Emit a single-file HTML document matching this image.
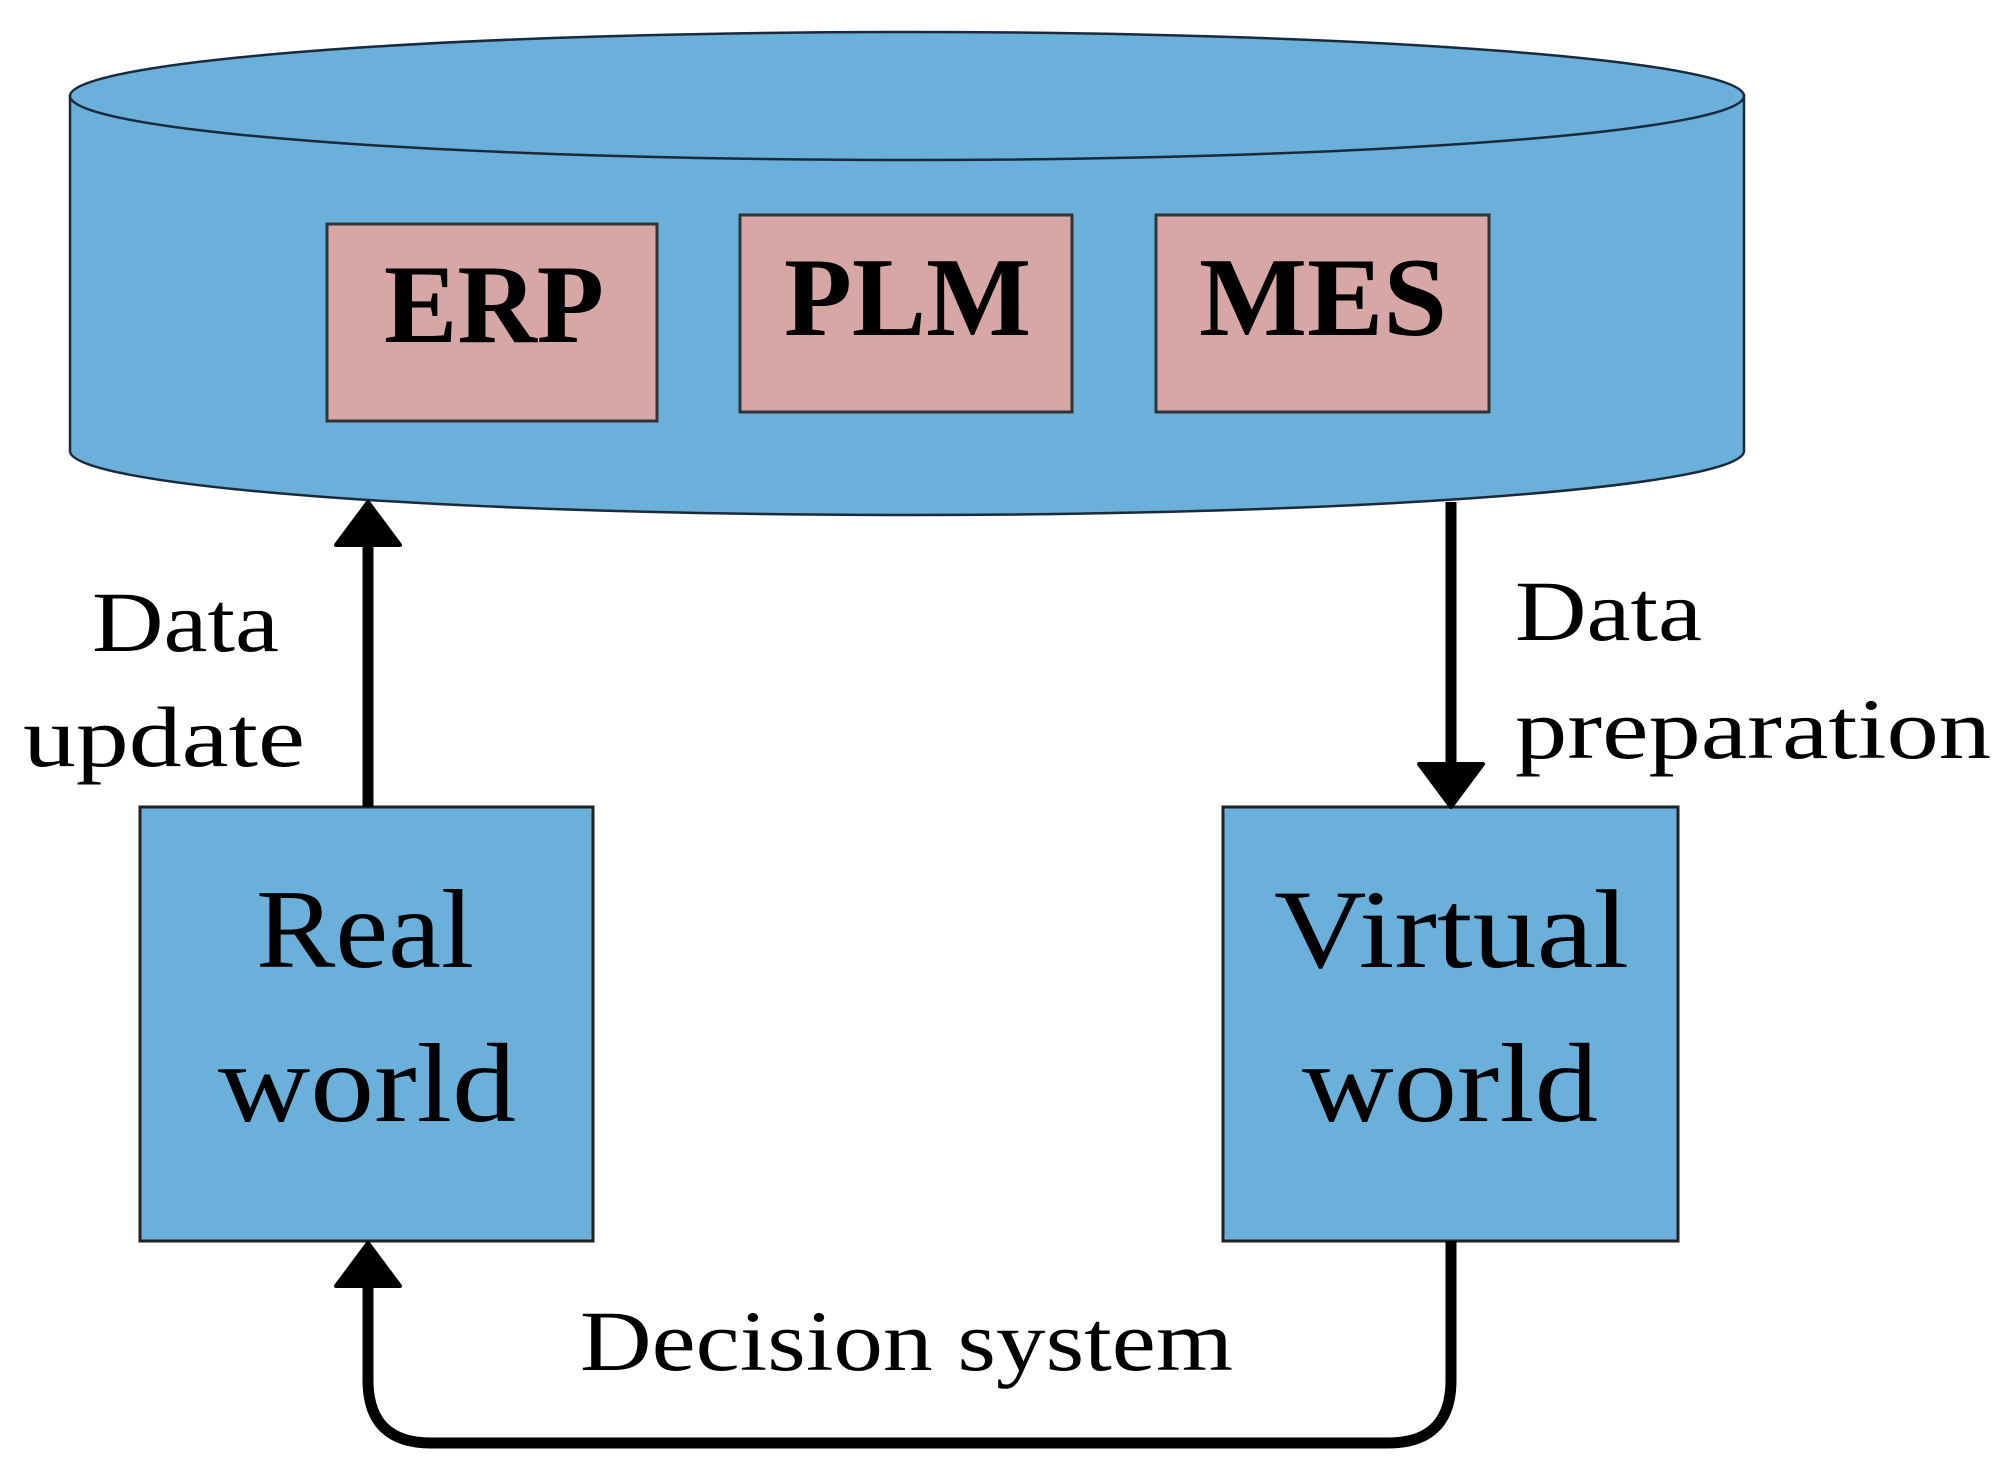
<!DOCTYPE html>
<html><head><meta charset="utf-8"><style>html,body{margin:0;padding:0;background:#fff}svg{display:block}</style></head>
<body>
<svg width="2008" height="1475" viewBox="0 0 2008 1475" xmlns="http://www.w3.org/2000/svg">
<defs>
<marker id="ah" viewBox="0 0 10 10" refX="9" refY="5" markerWidth="7" markerHeight="7" markerUnits="userSpaceOnUse" orient="auto"></marker>
</defs>
<!-- cylinder -->
<path d="M70 96 L70 451 A837 64 0 0 0 1744 451 L1744 96 Z" fill="#6ab0da" stroke="#1a2a3a" stroke-width="2.5"/>
<ellipse cx="907" cy="96" rx="837" ry="64" fill="#6ab0da" stroke="#1a2a3a" stroke-width="2.5"/>
<!-- boxes -->
<rect x="327" y="224" width="330" height="197" fill="#d6a7a5" stroke="#333" stroke-width="3"/>
<rect x="740" y="215" width="332" height="197" fill="#d6a7a5" stroke="#333" stroke-width="3"/>
<rect x="1156" y="215" width="333" height="197" fill="#d6a7a5" stroke="#333" stroke-width="3"/>
<g font-family="Liberation Serif, serif" font-weight="bold" font-size="112" fill="#000">
<text x="384" y="342" textLength="220" lengthAdjust="spacingAndGlyphs">ERP</text>
<text x="784" y="335" textLength="247" lengthAdjust="spacingAndGlyphs">PLM</text>
<text x="1199" y="335" textLength="248" lengthAdjust="spacingAndGlyphs">MES</text>
</g>
<rect x="140" y="807" width="453" height="434" fill="#6ab0da" stroke="#222" stroke-width="3"/>
<rect x="1223" y="807" width="455" height="434" fill="#6ab0da" stroke="#222" stroke-width="3"/>
<g font-family="Liberation Serif, serif" font-size="112" fill="#000">
<text x="256" y="967" textLength="218" lengthAdjust="spacingAndGlyphs">Real</text>
<text x="218" y="1121" textLength="298" lengthAdjust="spacingAndGlyphs">world</text>
<text x="1274" y="967" textLength="355" lengthAdjust="spacingAndGlyphs">Virtual</text>
<text x="1302" y="1121" textLength="296" lengthAdjust="spacingAndGlyphs">world</text>
</g>
<g font-family="Liberation Serif, serif" font-size="86" fill="#000">
<text x="92" y="651" textLength="187" lengthAdjust="spacingAndGlyphs">Data</text>
<text x="23" y="766" textLength="282" lengthAdjust="spacingAndGlyphs">update</text>
<text x="1515" y="640" textLength="187" lengthAdjust="spacingAndGlyphs">Data</text>
<text x="1515" y="758" textLength="476" lengthAdjust="spacingAndGlyphs">preparation</text>
<text x="580" y="1370" textLength="653" lengthAdjust="spacingAndGlyphs">Decision system</text>
</g>
<!-- connectors -->
<g stroke="#000" stroke-width="11" fill="none">
<line x1="368" y1="807" x2="368" y2="540"/>
<line x1="1451" y1="502" x2="1451" y2="770"/>
<path d="M1451 1241 L1451 1380 Q1451 1443 1388 1443 L431 1443 Q368 1443 368 1380 L368 1280"/>
</g>
<g fill="#000" stroke="#000" stroke-width="4" stroke-linejoin="round">
<path d="M368 502 L400 545 L336 545 Z"/>
<path d="M1451 807 L1483 764 L1419 764 Z"/>
<path d="M368 1243 L400 1286 L336 1286 Z"/>
</g>
</svg>
</body></html>
